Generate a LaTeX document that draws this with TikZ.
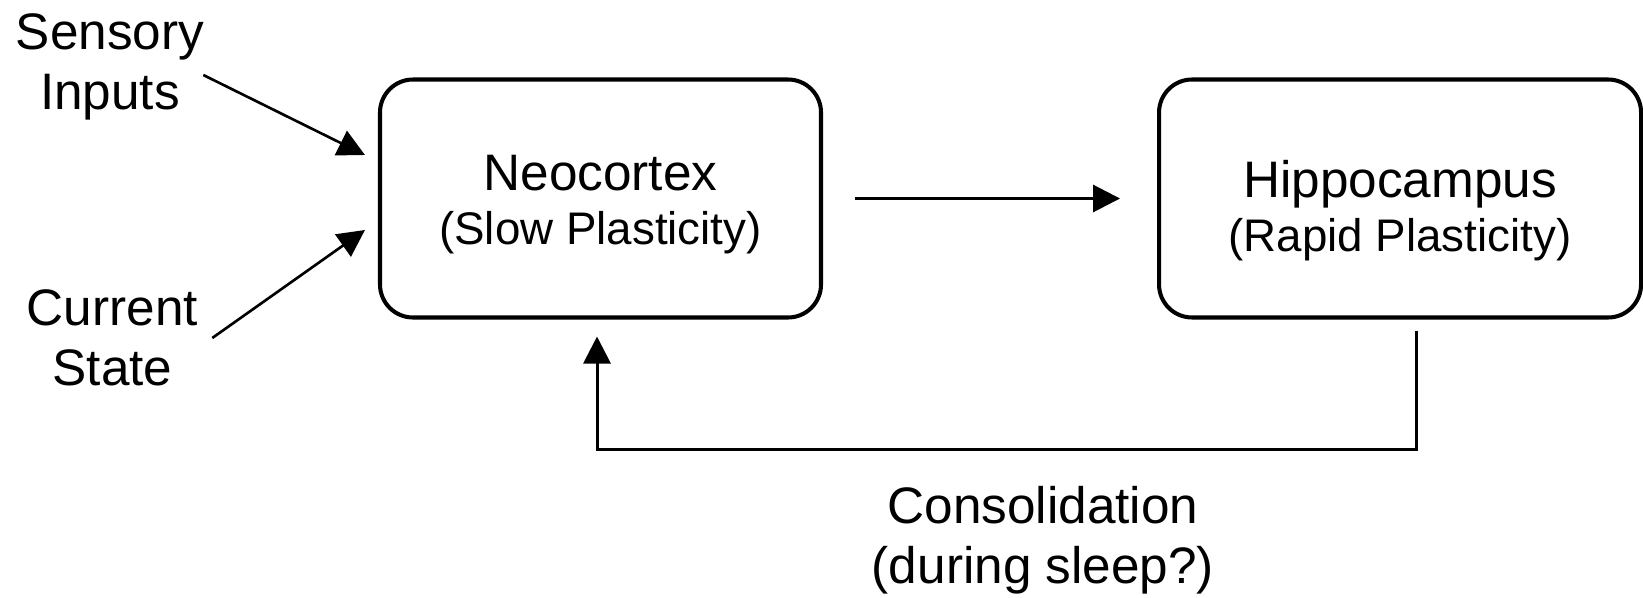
\documentclass[tikz,border=0pt]{standalone}
\usepackage{fontspec}
\setmainfont{Liberation Sans}
\usetikzlibrary{arrows.meta,positioning,calc}

\begin{document}
\begin{tikzpicture}[
box/.style={draw,line width=1.15pt,rounded corners=3.3mm,align=center,minimum width=44.1mm,minimum height=23.8mm,font=\fontsize{14.6}{15.4}\selectfont},
side/.style={align=center,inner sep=1pt,font=\fontsize{14.6}{17}\selectfont},
arr/.style={-{Triangle[length=2.7mm,width=2.7mm]},line width=0.85pt},
thinarr/.style={arr,line width=0.75pt}
]
\useasboundingbox (0,0) rectangle (16.43,5.97);

% the two memory systems (strut in the first line pushes the text a bit down)
\node[box] (neo) at (6.005,3.985) {\rule{0pt}{13.3pt}Neocortex\\{\fontsize{13}{15.4}\selectfont (Slow Plasticity)}};
\node[box,minimum width=48.2mm,right=3.34cm of neo] (hippo) {\rule{0pt}{17.3pt}Hippocampus\\{\fontsize{13}{15.4}\selectfont (Rapid Plasticity)}};

% inputs on the left, label under the loop
\node[side] (sens) at (1.10,5.30) {Sensory\\Inputs};
\node[side] (curr) at (1.125,2.59) {Current\\State};
\node[side] (consol) at (10.43,0.57) {Consolidation\\(during sleep?)};

\draw[thinarr] ([xshift=-0.5mm,yshift=-0.8mm]sens.east) -- ([xshift=-1.3mm,yshift=4.35mm]neo.west);
\draw[thinarr] ([xshift=1mm]curr.east) -- ([xshift=-1.3mm,yshift=-3.15mm]neo.west);
\draw[arr,shorten <=3.2mm,shorten >=3.7mm] (neo) -- (hippo);

% feedback from hippocampus back to neocortex
\coordinate (fbtop) at ([xshift=1.6mm,yshift=-1.1mm]hippo.south);
\draw[arr] (fbtop) -- ++(0,-1.19) -| ([xshift=-0.35mm,yshift=-1.7mm]neo.south);
\end{tikzpicture}
\end{document}
